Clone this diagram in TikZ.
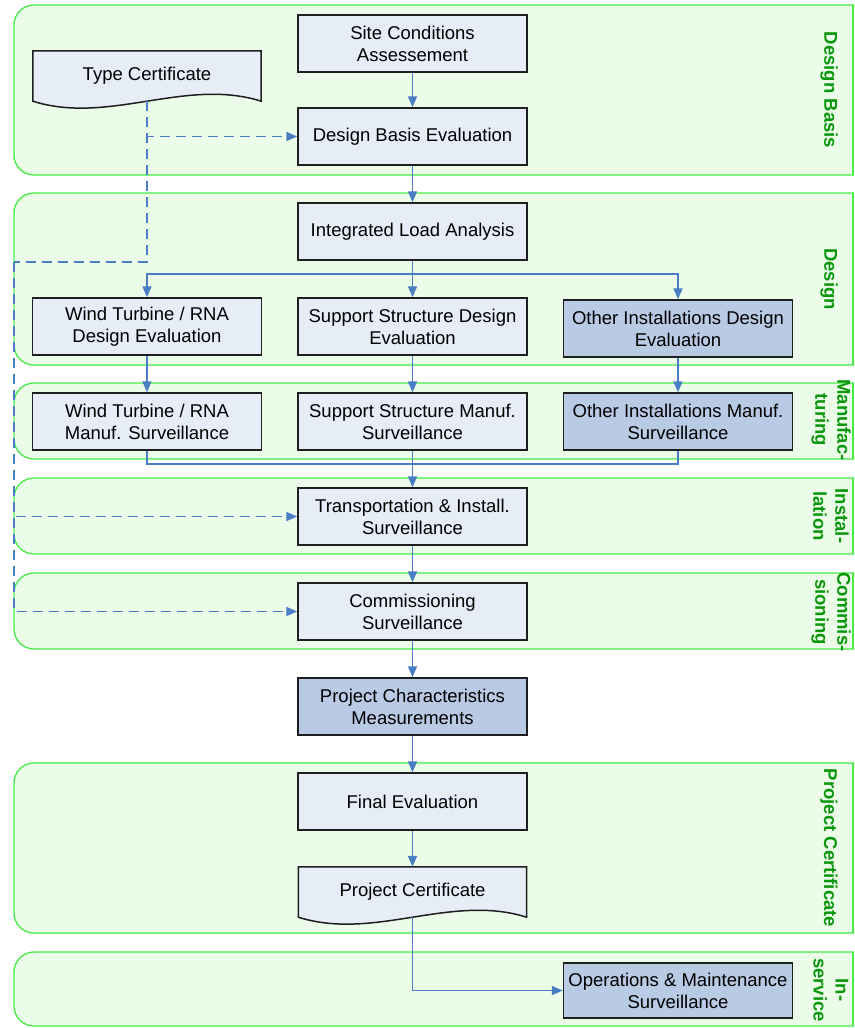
\documentclass[tikz,border=0pt]{standalone}
\usepackage{fontspec}
\setmainfont{Liberation Sans}
\usetikzlibrary{arrows.meta,calc}
\definecolor{bandfill}{RGB}{235,252,233}
\definecolor{bandline}{RGB}{70,235,70}
\definecolor{lanegreen}{RGB}{10,150,10}
\definecolor{boxlight}{RGB}{231,237,247}
\definecolor{boxdark}{RGB}{185,202,228}
\definecolor{flowc}{RGB}{74,126,196}
\definecolor{boxline}{RGB}{30,30,30}
\newcommand\bfnt{\fontsize{18.5}{22}\selectfont}
\newcommand\lfnt{\fontsize{18.5}{22}\selectfont\bfseries}
\tikzset{
  procbox/.style={draw=boxline, line width=1.5pt, fill=boxlight, minimum width=229pt, minimum height=57pt, align=center, inner sep=2pt, font=\bfnt},
  darkbox/.style={procbox, fill=boxdark},
  docnode/.style={minimum width=228pt, minimum height=50pt, align=center, inner sep=0pt, font=\bfnt},
  docshape/.style={draw=boxline, line width=1.5pt, fill=boxlight},
  flowline/.style={draw=flowc, line width=1.8pt},
  flow/.style={flowline, -{Triangle[length=11pt,width=9pt]}},
  dline/.style={flowline, dash pattern=on 10pt off 6pt},
  dflow/.style={flow, dash pattern=on 10pt off 6pt},
  band/.style={fill=bandfill, draw=bandline, line width=1.3pt, rounded corners=20pt},
  bandedge/.style={draw=bandline, line width=1.3pt},
  lane/.style={font=\lfnt, text=lanegreen, rotate=-90, align=center, inner sep=0pt},
}
\newcommand\bandbox[2]{%
  \filldraw[band] (14,#1) rectangle (873,#2);
  \draw[bandedge] (853,#1) -- (853,#2);}
\begin{document}
\begin{tikzpicture}[x=1pt,y=-1pt]
\useasboundingbox (0,0) rectangle (854,1028);
\clip (0,0) rectangle (854,1028);
% bands
\bandbox{5}{175}
\bandbox{193}{365}
\bandbox{383}{459}
\bandbox{478}{554}
\bandbox{573}{649}
\bandbox{763}{933}
\bandbox{952}{1026}
% lane labels
\node[lane] (lb1) at (829,90) {Design Basis};
\node[lane] (lb2) at (829,279) {Design};
\node[lane] (lb3) at (831,420) {Manufac-\\turing};
\node[lane] (lb4) at (831,516) {Instal-\\lation};
\node[lane] (lb5) at (831,612) {Commis-\\sioning};
\node[lane] (lb6) at (829,848) {Project Certificate};
\node[lane] (lb7) at (831,990) {In-\\service};
% document shapes
\node[docnode] (tc) at (147,76) {};
\filldraw[docshape] (tc.south west) -- (tc.north west) -- (tc.north east) -- (tc.south east)
  .. controls ($(tc.south east)+(-76,-24)$) and ($(tc.south west)+(76,24)$) .. (tc.south west) -- cycle;
\node[docnode] at (tc.center) {\raisebox{4pt}{Type Certificate}};
\node[docnode] (pc) at (412.5,892) {};
\filldraw[docshape] (pc.south west) -- (pc.north west) -- (pc.north east) -- (pc.south east)
  .. controls ($(pc.south east)+(-76,-24)$) and ($(pc.south west)+(76,24)$) .. (pc.south west) -- cycle;
\node[docnode] at (pc.center) {\raisebox{4pt}{Project Certificate}};
% process boxes
\node[procbox] (site) at (412.5,43.5) {Site Conditions\\Assessement};
\node[procbox] (dbe) at (412.5,136.5) {Design Basis Evaluation};
\node[procbox] (ila) at (412.5,231.5) {Integrated Load Analysis};
\node[procbox] (wtd) at (147,326.5) {Wind Turbine / RNA\\Design Evaluation};
\node[procbox] (ssd) at (412.5,326.5) {Support Structure Design\\Evaluation};
\node[darkbox] (oid) at (678,328.5) {Other Installations Design\\Evaluation};
\node[procbox] (wtm) at (147,421.5) {Wind Turbine / RNA\\Manuf. Surveillance};
\node[procbox] (ssm) at (412.5,421.5) {Support Structure Manuf.\\Surveillance};
\node[darkbox] (oim) at (678,421.5) {Other Installations Manuf.\\Surveillance};
\node[procbox] (tis) at (412.5,516.5) {Transportation \& Install.\\Surveillance};
\node[procbox] (com) at (412.5,611.5) {Commissioning\\Surveillance};
\node[darkbox] (pcm) at (412.5,706.5) {Project Characteristics\\Measurements};
\node[procbox] (fe) at (412.5,801.5) {Final Evaluation};
\node[darkbox, minimum height=55pt] (oms) at (678,990.5) {Operations \& Maintenance\\Surveillance};
% solid connectors
\draw[flow] (site) -- (dbe);
\draw[flow] (dbe) -- (ila);
\coordinate (split) at (412.5,274);
\draw[flow] (ila.south) -- (ssd.north);
\draw[flow] (split) -| (wtd.north);
\draw[flow] (split) -| (oid.north);
\draw[flow] (wtd) -- (wtm);
\draw[flow] (ssd) -- (ssm);
\draw[flow] (oid) -- (oim);
\coordinate (merge) at (412.5,464);
\draw[flowline] (wtm.south) |- (merge) -| (oim.south);
\draw[flow] (ssm) -- (tis);
\draw[flow] (tis) -- (com);
\draw[flow] (com) -- (pcm);
\draw[flow] (pcm) -- (fe);
\draw[flow] (fe) -- (pc.north);
\draw[flow] (pc.south) |- (oms.west);
% dashed connectors
\coordinate (dcorner) at (14,262);
\draw[dflow] (tc.south) |- (dbe.west);
\draw[dline] (tc.south) |- (dcorner);
\draw[dflow] (dcorner) |- (tis.west);
\draw[dflow] (dcorner) |- (com.west);
\end{tikzpicture}
\end{document}
